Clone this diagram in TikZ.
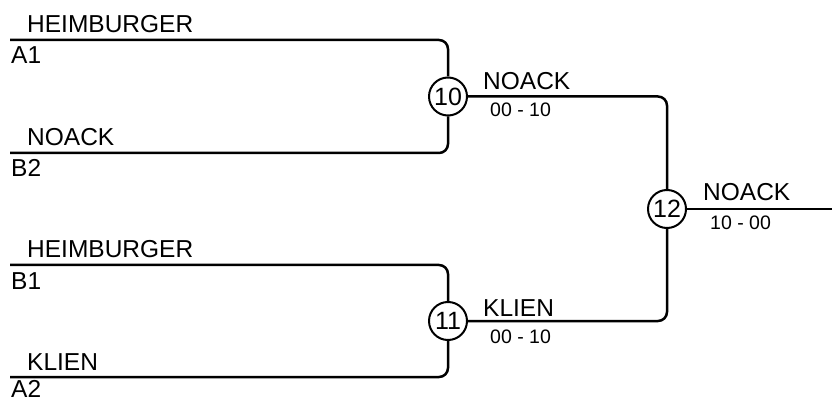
\documentclass[tikz,border=0pt]{standalone}
\usepackage{fontspec}
\setmainfont{Liberation Sans}
\begin{document}
\begin{tikzpicture}[x=1pt,y=-1pt,
  bk/.style={draw, line width=2.5pt, rounded corners=9pt},
  team/.style={anchor=base west, inner sep=0pt, font=\fontsize{24.5}{28}\selectfont},
  score/.style={anchor=base west, inner sep=0pt, font=\fontsize{19.5}{22}\selectfont},
  match/.style={circle, draw, line width=2pt, fill=white, minimum size=38pt, inner sep=0pt, font=\fontsize{25}{28}\selectfont}]
\useasboundingbox (0,0) rectangle (832,403);
\coordinate (a1) at (10,40);
\coordinate (b2) at (10,153);
\coordinate (b1) at (10,265);
\coordinate (a2) at (10,377);
\coordinate (fin) at (832,209);
\node[match] (m10) at (448,96.5) {10};
\node[match] (m11) at (448,321) {11};
\node[match] (m12) at (667,209) {12};
\draw[bk] (a1) -| (m10.north);
\draw[bk] (b2) -| (m10.south);
\draw[bk] (b1) -| (m11.north);
\draw[bk] (a2) -| (m11.south);
\draw[bk] (m10.east) -| (m12.north);
\draw[bk] (m11.east) -| (m12.south);
\draw[bk] (m12.east) -- (fin);
\node[team] (t1) at (27,33) {HEIMBURGER};
\node[team] (s1) at (11,64) {A1};
\node[team] (t2) at (27,146) {NOACK};
\node[team] (s2) at (11,177) {B2};
\node[team] (t3) at (27,258) {HEIMBURGER};
\node[team] (s3) at (11,289) {B1};
\node[team] (t4) at (27,370) {KLIEN};
\node[team] (s4) at (11,397.5) {A2};
\node[team] (w10) at (483,90) {NOACK};
\node[score] (r10) at (490,117) {00 - 10};
\node[team] (w11) at (483,316) {KLIEN};
\node[score] (r11) at (490,343) {00 - 10};
\node[team] (w12) at (703,201) {NOACK};
\node[score] (r12) at (710,230) {10 - 00};
\end{tikzpicture}
\end{document}
